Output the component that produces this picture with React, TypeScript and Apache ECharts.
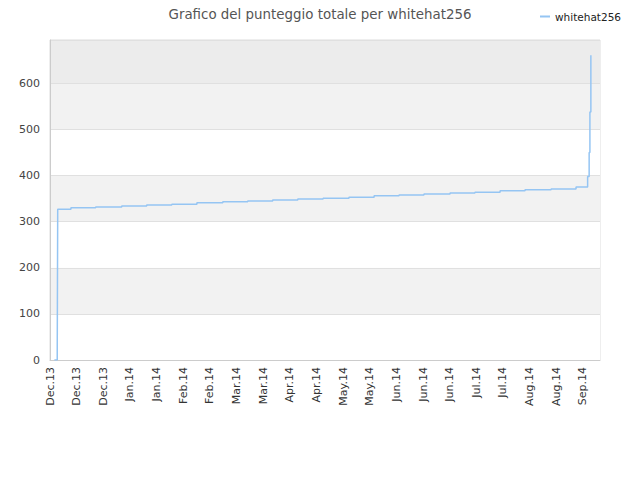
import React, { useEffect, useRef } from "react";
import * as echarts from "echarts";

const tickLabels = [
  "Dec.13", "Dec.13", "Dec.13", "Jan.14", "Jan.14", "Feb.14", "Feb.14",
  "Mar.14", "Mar.14", "Apr.14", "Apr.14", "May.14", "May.14", "Jun.14",
  "Jun.14", "Jun.14", "Jul.14", "Jul.14", "Aug.14", "Aug.14", "Sep.14",
];
// days since Dec 1 2013
const days = [
  2.3, 3.8, 4.05, 11, 24, 37.7, 50.8, 64, 77.2, 90.8, 103.9, 117, 130.2,
  143.5, 157.1, 170.3, 183.4, 196.5, 210.2, 223.3, 236.5, 249.6, 263.3,
  276.4, 282.5, 283.3, 283.7, 284.2,
];
const scores = [
  0, 17, 327, 330, 332, 334, 336, 338, 341, 343, 345, 347, 349,
  351, 353, 356, 358, 360, 362, 364, 367, 369, 371,
  375, 398, 450, 538, 661,
];
const seriesName = "whitehat256";
const titleText = "Grafico del punteggio totale per whitehat256";

export default function App() {
  const ref = useRef<HTMLDivElement>(null);
  useEffect(() => {
    document.body.style.margin = "0";
    const chart = echarts.init(ref.current!, null, { renderer: "svg" });
    const font = "DejaVu Sans";
    chart.setOption({
      animation: false,
      backgroundColor: "#ffffff",
      title: {
        text: titleText,
        left: "center",
        top: 3,
        textStyle: { fontFamily: font, fontSize: 13.4, fontWeight: "normal", color: "#555555" },
      },
      legend: {
        right: 14,
        top: 6,
        itemWidth: 10,
        itemHeight: 2,
        itemGap: 9,
        icon: "rect",
        textStyle: { fontFamily: font, fontSize: 10.5, color: "#222222" },
        data: [seriesName],
      },
      grid: {
        left: 50,
        top: 40,
        right: 40,
        bottom: 120,
        show: true,
        borderColor: "#dddddd",
        borderWidth: 1,
      },
      xAxis: {
        type: "value",
        min: 0,
        max: 289,
        interval: 14,
        axisLine: { show: true, lineStyle: { color: "#cccccc" } },
        axisTick: { show: false },
        splitLine: { show: false },
        axisLabel: {
          rotate: 90,
          margin: 7,
          fontFamily: font,
          fontSize: 11,
          color: "#333333",
          showMaxLabel: false,
          formatter: (v: number) => {
            const i = Math.round(v / 14);
            return Math.abs(v - i * 14) < 0.01 && i < tickLabels.length ? tickLabels[i] : "";
          },
        },
      },
      yAxis: {
        type: "value",
        min: 0,
        max: 694,
        interval: 100,
        axisLine: { show: true, lineStyle: { color: "#cccccc" } },
        axisTick: { show: false },
        splitLine: { show: true, lineStyle: { color: "#e0e0e0" } },
        splitArea: {
          show: true,
          areaStyle: {
            color: ["#ffffff", "#f2f2f2", "#ffffff", "#f2f2f2", "#ffffff", "#f2f2f2", "#ececec"],
          },
        },
        axisLabel: {
          fontFamily: font,
          fontSize: 11,
          color: "#444444",
          margin: 10,
          showMaxLabel: false,
          formatter: (v: number) => (v % 100 === 0 ? String(v) : ""),
        },
      },
      series: [
        {
          name: seriesName,
          type: "line",
          step: "end",
          showSymbol: false,
          symbol: "none",
          data: days.map((d, i) => [d, scores[i]]),
          lineStyle: { color: "#95c5f3", width: 1.5 },
          itemStyle: { color: "#95c5f3" },
        },
      ],
    });
    return () => chart.dispose();
  }, []);
  return <div ref={ref} style={{ width: 640, height: 480 }} />;
}
